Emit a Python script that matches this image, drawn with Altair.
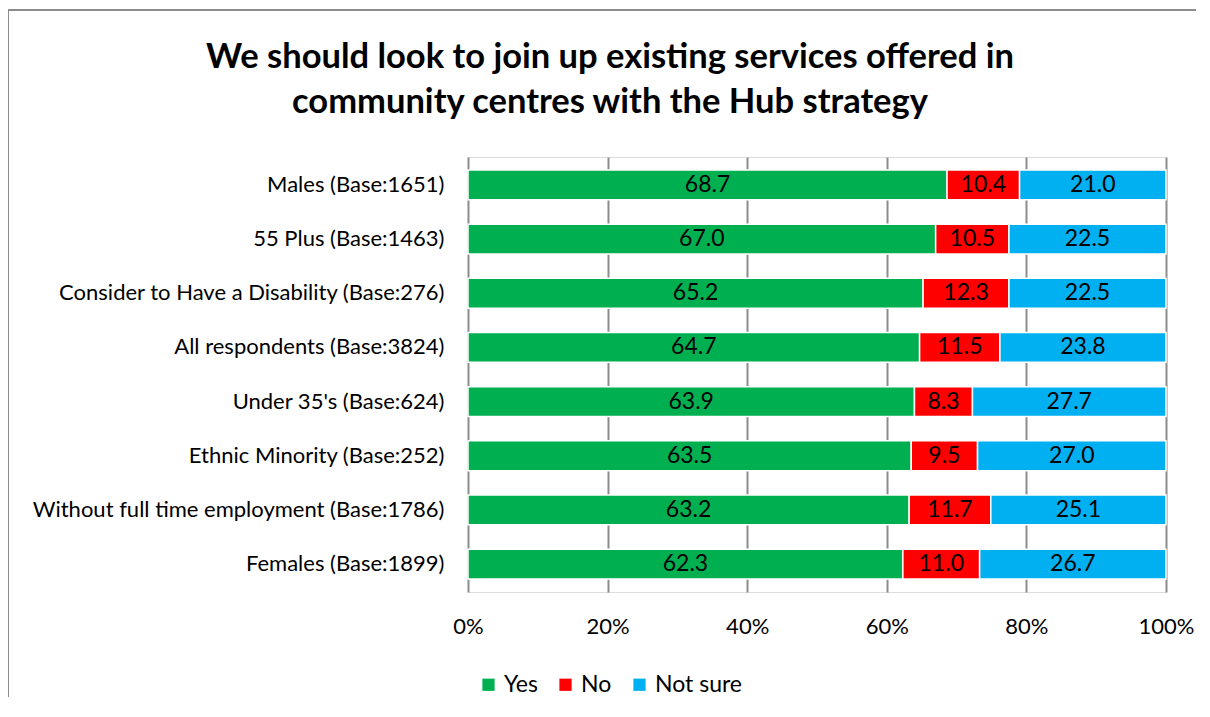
import altair as alt
import pandas as pd

groups = [
    "Males (Base:1651)",
    "55 Plus (Base:1463)",
    "Consider to Have a Disability (Base:276)",
    "All respondents (Base:3824)",
    "Under 35's (Base:624)",
    "Ethnic Minority (Base:252)",
    "Without full time employment (Base:1786)",
    "Females (Base:1899)",
]
yes = [68.7, 67.0, 65.2, 64.7, 63.9, 63.5, 63.2, 62.3]
no = [10.4, 10.5, 12.3, 11.5, 8.3, 9.5, 11.7, 11.0]
not_sure = [21.0, 22.5, 22.5, 23.8, 27.7, 27.0, 25.1, 26.7]
answers = ["Yes", "No", "Not sure"]
colors = ["#00B050", "#FF0000", "#00B0F0"]

rows = []
for i, g in enumerate(groups):
    for k, (a, vals) in enumerate(zip(answers, [yes, no, not_sure])):
        rows.append({"group": g, "answer": a, "value": vals[i], "order": k})
df = pd.DataFrame(rows)

FONT = "Lato"

base = alt.Chart(df).transform_stack(
    stack="value",
    groupby=["group"],
    as_=["x0", "x1"],
    offset="normalize",
    sort=[alt.SortField("order", order="ascending")],
).transform_calculate(
    xm="(datum.x0 + datum.x1) / 2",
    label="format(datum.value, '.1f')",
)

y_enc = alt.Y(
    "group:N",
    sort=groups,
    title=None,
    scale=alt.Scale(paddingInner=0.45, paddingOuter=0.24),
    axis=alt.Axis(
        labelFont=FONT,
        labelFontSize=22,
        labelColor="#000000",
        labelPadding=24,
        ticks=False,
        domain=False,
        labelLimit=500,
    ),
)

bars = base.mark_bar(stroke="white", strokeWidth=1.5).encode(
    x=alt.X(
        "x0:Q",
        scale=alt.Scale(domain=[0, 1], nice=False),
        title=None,
        axis=alt.Axis(
            values=[0, 0.2, 0.4, 0.6, 0.8, 1.0],
            format=".0%",
            labelFont=FONT,
            labelFontSize=22,
            labelColor="#000000",
            labelPadding=24,
            labelFlush=False,
            ticks=False,
            domain=False,
            grid=True,
            gridColor="#8c8c8c",
            gridWidth=2,
        ),
    ),
    x2="x1:Q",
    y=y_enc,
    color=alt.Color(
        "answer:N",
        sort=answers,
        scale=alt.Scale(domain=answers, range=colors),
        legend=alt.Legend(
            title=None,
            orient="none",
            direction="horizontal",
            legendX=9,
            legendY=516,
            symbolType="square",
            symbolSize=150,
            symbolStrokeWidth=0,
            labelFont=FONT,
            labelFontSize=23,
            labelColor="#000000",
            columnPadding=16,
            labelOffset=4,
        ),
    ),
)

texts = base.mark_text(font=FONT, fontSize=23, color="#000000").encode(
    x=alt.X("xm:Q"),
    y=alt.Y("group:N", sort=groups),
    text="label:N",
)

border_top = alt.Chart(df).mark_rule(color="#8c8c8c", strokeWidth=2).encode(
    x=alt.value(-460), x2=alt.value(760), y=alt.value(-147)
)
border_left = alt.Chart(df).mark_rule(color="#8c8c8c", strokeWidth=2).encode(
    x=alt.value(-460), y=alt.value(-147), y2=alt.value(600)
)

chart = alt.layer(bars, texts, border_top, border_left).properties(
    width=698,
    height=435,
    autosize=alt.AutoSizeParams(type="none"),
    padding={"left": 460, "top": 149, "right": 30, "bottom": 105},
    title=alt.TitleParams(
        text=[
            "We should look to join up existing services offered in",
            "community centres with the Hub strategy",
        ],
        font=FONT,
        fontSize=34.5,
        fontWeight="bold",
        color="#000000",
        anchor="middle",
        frame="group",
        dx=-207,
        dy=111,
        lineHeight=45,
        offset=0,
    ),
).configure_view(stroke=None).configure(background="white")

chart.save("out.html", embed_options={"renderer": "svg", "actions": False})
